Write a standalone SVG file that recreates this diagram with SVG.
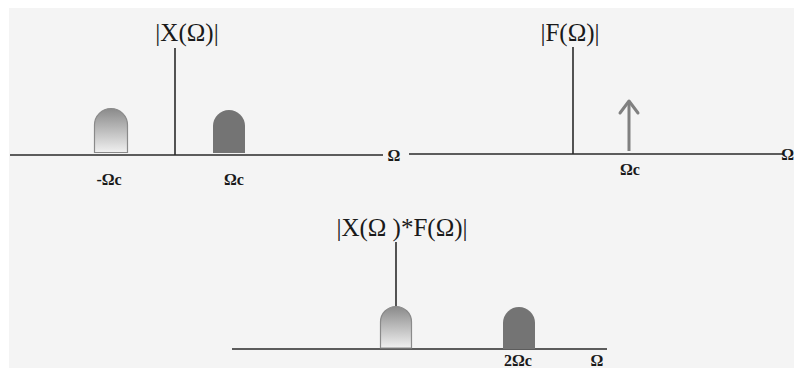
<svg xmlns="http://www.w3.org/2000/svg" width="794" height="368" viewBox="0 0 794 368">
<defs>
<linearGradient id="bumpGrad" x1="0" y1="0" x2="0" y2="1">
<stop offset="0" stop-color="#8a8a8a"/>
<stop offset="1" stop-color="#f0f0f0"/>
</linearGradient>
<style>
.axis{stroke:#2a2a2a;stroke-width:1.6;fill:none}
.title{font-family:"Liberation Serif","Times New Roman",serif;font-size:25px;fill:#1a1a1a}
.lbl{font-family:"Liberation Serif","Times New Roman",serif;font-size:16px;font-weight:bold;fill:#1a1a1a}
.bumpG{fill:url(#bumpGrad);stroke:#8a8a8a;stroke-width:1.2}
.bumpS{fill:#747474;stroke:none}
</style>
</defs>
<rect x="9" y="8" width="785" height="360" fill="#f4f4f4"/>

<g id="plot-x">
<line class="axis" x1="10" y1="155" x2="383" y2="155"/>
<line class="axis" x1="175" y1="48" x2="175" y2="155"/>
<text class="title" x="187" y="41" text-anchor="middle">|X(Ω)|</text>
<text class="lbl" x="394" y="161" text-anchor="middle">Ω</text>
<path class="bumpG" d="M94.5,152.5 V125 A16.5,16.5 0 0 1 127.5,125 V152.5 Z"/>
<path class="bumpS" d="M213,153 V126 A16,16 0 0 1 245,126 V153 Z"/>
<text class="lbl" x="109" y="185" text-anchor="middle">-Ωc</text>
<text class="lbl" x="234" y="185" text-anchor="middle">Ωc</text>
</g>

<g id="plot-f">
<line class="axis" x1="409" y1="154" x2="783" y2="154"/>
<line class="axis" x1="573" y1="47" x2="573" y2="154"/>
<text class="title" x="570" y="41" text-anchor="middle">|F(Ω)|</text>
<text class="lbl" x="794" y="160" text-anchor="end">Ω</text>
<g id="impulse">
<line x1="629" y1="151" x2="629" y2="101" stroke="#808080" stroke-width="3"/>
<polyline points="620,113 629,101 638,113" fill="none" stroke="#808080" stroke-width="3" stroke-linecap="round" stroke-linejoin="round"/>
</g>
<text class="lbl" x="630" y="175" text-anchor="middle">Ωc</text>
</g>

<g id="plot-xf">
<line class="axis" x1="232" y1="349" x2="607" y2="349"/>
<line class="axis" x1="396" y1="242" x2="396" y2="307"/>
<text class="title" x="402" y="236" text-anchor="middle">|X(Ω )*F(Ω)|</text>
<path class="bumpG" d="M380.5,348 V322 A15.5,15.5 0 0 1 411.5,322 V348 Z"/>
<path class="bumpS" d="M503,349 V323 A16,16 0 0 1 535,323 V349 Z"/>
<text class="lbl" x="518" y="366" text-anchor="middle">2Ωc</text>
<text class="lbl" x="597" y="366" text-anchor="middle">Ω</text>
</g>
</svg>
